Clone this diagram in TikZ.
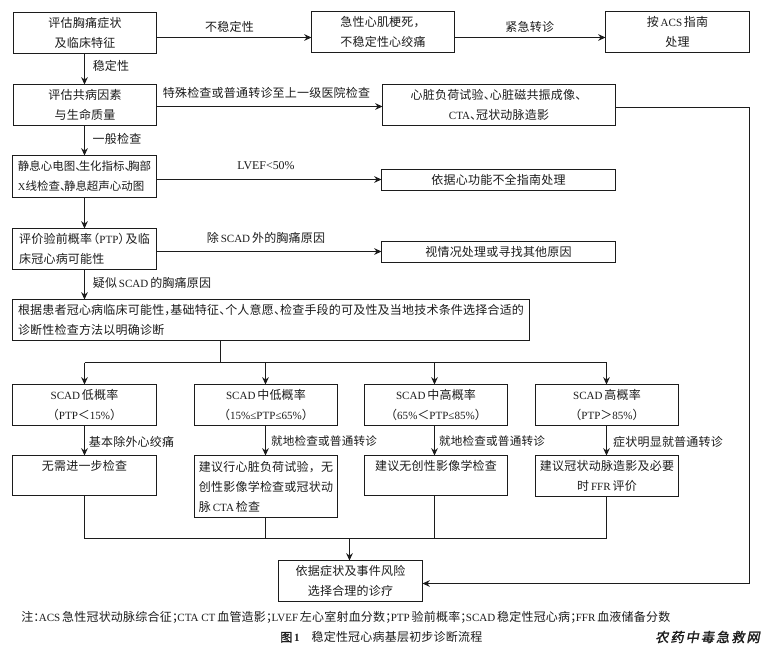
\documentclass[tikz,border=0pt]{standalone}
\usepackage{fontspec}
\setmainfont[LetterSpace=1.7]{Noto Sans CJK SC}
\newfontfamily\tightf{Noto Sans CJK SC}
\newfontfamily\latf[Scale=0.92]{Liberation Serif}
\newfontfamily\wmf[FakeSlant=0.18,FakeBold=1.5]{Noto Sans CJK SC}
\newfontfamily\capf[FakeBold=1]{Noto Sans CJK SC}
\newcommand{\latn}[1]{{\latf #1}}
\newcommand{\dun}[1][0.5]{、\hspace{-#1em}}
\newcommand{\dou}{，\hspace{-0.5em}}
\newcommand{\fen}{；\hspace{-0.55em}}
\usetikzlibrary{arrows.meta}
\definecolor{ink}{HTML}{1C1C1C}
\tikzset{
  bx/.style={draw=ink,line width=0.95pt,inner sep=0pt,outer sep=0pt,align=center,text=ink,font=\fontsize{9}{15}\selectfont},
  bxl/.style={bx,align=left},
  lbl/.style={text=ink,inner sep=0pt,font=\fontsize{9}{15}\selectfont},
  lin/.style={draw=ink,line width=0.95pt},
  arr/.style={lin,-{Stealth[length=5.5pt,width=5pt]}}
}
\newcommand{\bxn}[6][bx]{\node[#1,minimum width={(#4-#2)*0.75pt},minimum height={(#5-#3)*0.75pt}] (#6) at ({(#2+#4)/2},{(#3+#5)/2})}
\begin{document}
\begin{tikzpicture}[x=0.75pt,y=-0.75pt]
\useasboundingbox[fill=white] (0,0) rectangle (763,649);
% boxes
\bxn{13.5}{12.5}{156.5}{53.5}{A} {评估胸痛症状\\及临床特征};
\bxn{311.5}{11.5}{454.5}{52.5}{B} {急性心肌梗死，\\不稳定性心绞痛};
\bxn{605.5}{11.5}{749.5}{52.5}{C} {按\latn{\,ACS\,}指南\\处理};
\bxn{13.5}{84.5}{156.5}{125.5}{D} {评估共病因素\\与生命质量};
\bxn{382.5}{84.5}{615.5}{125.5}{E} {心脏负荷试验\dun 心脏磁共振成像\dun\\\latn{CTA}\dun 冠状动脉造影};
\bxn[{bxl,font=\fontsize{8.6}{15}\selectfont\tightf}]{12.5}{155.5}{156.5}{197.5}{F} {静息心电图\dun[0.7]生化指标\dun[0.7]胸部\\\latn{X}线检查\dun[0.65]静息超声心动图};
\bxn{381.5}{169.5}{615.5}{190.5}{G} {依据心功能不全指南处理};
\bxn[bxl]{12.5}{228.5}{156.5}{269.5}{H} {评价验前概率\hspace{-0.4em}（\latn{PTP}）\hspace{-0.4em}及临\\床冠心病可能性};
\bxn{381.5}{241.5}{615.5}{262.5}{I} {视情况处理或寻找其他原因};
\bxn[bxl]{12.5}{299.5}{529.5}{340.5}{J} {根据患者冠心病临床可能性\dou 基础特征\dun 个人意愿\dun 检查手段的可及性及当地技术条件选择合适的\\诊断性检查方法以明确诊断};
\bxn{12.5}{384.5}{156.5}{425.5}{K1} {\latn{SCAD\,}低概率\\（\latn{PTP}＜\latn{15\%}）};
\bxn{194.5}{384.5}{337.5}{425.5}{K2} {\latn{SCAD\,}中低概率\\（\latn{15\%≤PTP≤65\%}）};
\bxn{364.5}{384.5}{507.5}{425.5}{K3} {\latn{SCAD\,}中高概率\\（\latn{65\%}＜\latn{PTP≤85\%}）};
\bxn{535.5}{384.5}{678.5}{425.5}{K4} {\latn{SCAD\,}高概率\\（\latn{PTP}＞\latn{85\%}）};
\bxn{12.5}{455.5}{156.5}{495.5}{L1} {无需进一步检查\\\phantom{无}};
\bxn[bxl]{194.5}{455.5}{337.5}{517.5}{L2} {建议行心脏负荷试验，无\\创性影像学检查或冠状动\\脉\latn{\,CTA\,}检查};
\bxn{364.5}{455.5}{507.5}{495.5}{L3} {建议无创性影像学检查\\\phantom{无}};
\bxn{535.5}{455.5}{678.5}{496.5}{L4} {建议冠状动脉造影及必要\\时\latn{\,FFR\,}评价};
\bxn{278.5}{560.5}{422.5}{601.5}{M} {依据症状及事件风险\\选择合理的诊疗};
% connector helpers
\coordinate (sp) at (220.5,362.5);
\coordinate (mg) at (349.5,538.5);
\coordinate (rc) at (749.5,583.5);
\coordinate (c2) at ([xshift=-0.375pt]K2.north);
\coordinate (c3) at ([xshift=-1.125pt]K3.north);
\coordinate (c4) at ([xshift=-0.375pt]K4.north);
% horizontal arrows
\draw[arr] ([yshift=-3.375pt]A.east) -- ([yshift=-4.125pt]B.west);
\draw[arr] ([yshift=-4.125pt]B.east) -- ([yshift=-4.125pt]C.west);
\draw[arr] ([yshift=-1.125pt]D.east) -- ([yshift=-1.125pt]E.west);
\draw[arr] ([yshift=-2.25pt]F.east) -- ([yshift=0.375pt]G.west);
\draw[arr] ([yshift=-1.875pt]H.east) -- ([yshift=0.375pt]I.west);
% vertical arrows
\draw[arr] (A.south -| F.south) -- (D.north -| F.south);
\draw[arr] (D.south -| F.south) -- (F.north);
\draw[arr] (F.south) -- (H.north);
\draw[arr] (H.south) -- (H.south |- J.north);
% split
\draw[lin] (sp |- J.south) -- (sp);
\draw[lin] (K1.north |- sp) -- (c4 |- sp);
\draw[arr] (K1.north |- sp) -- (K1.north);
\draw[arr] (c2 |- sp) -- (c2);
\draw[arr] (c3 |- sp) -- (c3);
\draw[arr] (c4 |- sp) -- (c4);
\draw[arr] (K1.south) -- (L1.north);
\draw[arr] (c2 |- K2.south) -- (c2 |- L2.north);
\draw[arr] (c3 |- K3.south) -- (c3 |- L3.north);
\draw[arr] (c4 |- K4.south) -- (c4 |- L4.north);
% merge
\draw[lin] (L1.south) -- (L1.south |- mg) -- (c4 |- mg) -- (c4 |- L4.south);
\draw[lin] (c2 |- L2.south) -- (c2 |- mg);
\draw[lin] (c3 |- L3.south) -- (c3 |- mg);
\draw[arr] (mg) -- (mg |- M.north);
\draw[arr] ([yshift=-1.875pt]E.east) -| (rc) -- (M.east |- rc);
% labels
\node[lbl] (t1) at (229.5,27) {不稳定性};
\node[lbl] (t2) at (111,66) {稳定性};
\node[lbl] (t3) at (529.7,27) {紧急转诊};
\node[lbl] (t4) at (266.5,92.5) {特殊检查或普通转诊至上一级医院检查};
\node[lbl] (t5) at (117,139) {一般检查};
\node[lbl,font=\fontsize{9.7}{15}\selectfont] (t6) at (266,166) {\latn{LVEF<50\%}};
\node[lbl] (t7) at (266,238) {除\latn{\,SCAD\,}外的胸痛原因};
\node[lbl] (t8) at (152,283) {疑似\latn{\,SCAD\,}的胸痛原因};
\node[lbl] (t9) at (131.5,442) {基本除外心绞痛};
\node[lbl,font=\fontsize{8.7}{15}\selectfont] (t10) at (324,441) {就地检查或普通转诊};
\node[lbl,font=\fontsize{8.7}{15}\selectfont] (t11) at (492,441) {就地检查或普通转诊};
\node[lbl] (t12) at (668,442) {症状明显就普通转诊};
\node[lbl,anchor=west] (n1) at (21,617) {注：\hspace{-0.55em}\latn{ACS\,}急性冠状动脉综合征\fen\latn{CTA CT\,}血管造影\fen\latn{LVEF\,}左心室射血分数\fen\latn{PTP\,}验前概率\fen\latn{SCAD\,}稳定性冠心病\fen\latn{FFR\,}血液储备分数};
\node[lbl,anchor=west] (n2) at (280,637) {{\capf 图}{\latf\bfseries\,1}\quad 稳定性冠心病基层初步诊断流程};
\node[lbl,anchor=west,font=\fontsize{10}{10}\selectfont\wmf\addfontfeatures{LetterSpace=14}] (n3) at (655,637) {农药中毒急救网};
\end{tikzpicture}
\end{document}
